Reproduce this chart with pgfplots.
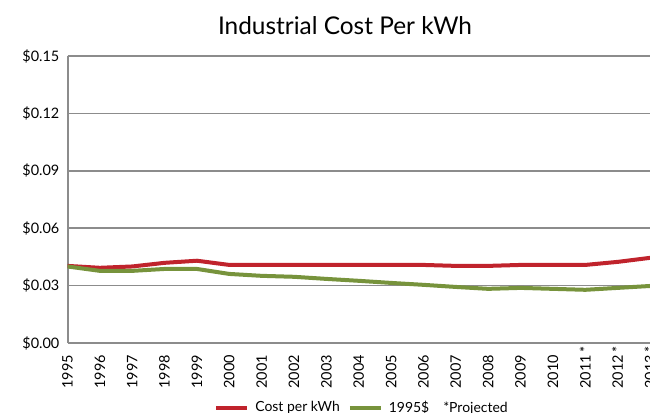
\documentclass[border=0pt]{standalone}
\usepackage{fontspec}
\setmainfont{Lato}
\usepackage{pgfplots}
\pgfplotsset{compat=1.18}
\definecolor{cred}{HTML}{C0232C}
\definecolor{cgreen}{HTML}{77933C}
\definecolor{cgrid}{HTML}{8C8C8C}
\begin{document}
\begin{tikzpicture}
\useasboundingbox (0bp,0bp) rectangle (650bp,413bp);
\clip (0bp,0bp) rectangle (650bp,413bp);
\node[font=\fontsize{24.5}{28}\selectfont] at (345bp,387bp) {Industrial Cost Per kWh};
\begin{axis}[
  at={(67.5bp,70bp)}, anchor=south west,
  scale only axis, width=582.5bp, height=287bp,
  xmin=1995, xmax=2013, ymin=0, ymax=0.15,
  axis x line*=bottom, axis y line*=left,
  axis line style={cgrid, line width=2bp, -},
  ytick={0,0.03,0.06,0.09,0.12,0.15},
  yticklabels={\$0.00,\$0.03,\$0.06,\$0.09,\$0.12,\$0.15},
  xtick={1995,...,2013},
  xticklabels={1995,1996,1997,1998,1999,2000,2001,2002,2003,2004,2005,2006,2007,2008,2009,2010,2011\rlap{\,*},2012\rlap{\,*},2013\rlap{\,*}},
  xticklabel style={rotate=90, anchor=east, font=\fontsize{14.5}{16}\selectfont, inner sep=0pt, xshift=-12bp},
  yticklabel style={font=\fontsize{14.5}{16}\selectfont, inner sep=0pt, xshift=-8bp},
  /pgf/number format/assume math mode=true,
  major tick length=0pt,
  ymajorgrids, grid style={cgrid, line width=1.5bp},
  legend columns=3,
  legend style={at={(0.5056,-0.225)}, anchor=center, draw=none, fill=none,
    font=\fontsize{14}{15}\selectfont, column sep=4bp, inner sep=0pt,
    /tikz/every even column/.append style={column sep=6bp}},
  legend image code/.code={\draw[#1, line width=4bp] (0bp,0bp) -- (31bp,0bp);},
  every axis plot/.append style={line width=4bp, line join=round, mark=none},
]
\addplot[cred] coordinates {
(1995,0.0403)(1996,0.0393)(1997,0.0400)(1998,0.0419)(1999,0.0430)
(2000,0.0408)(2001,0.0408)(2002,0.0408)(2003,0.0408)(2004,0.0408)
(2005,0.0408)(2006,0.0408)(2007,0.0403)(2008,0.0403)(2009,0.0408)
(2010,0.0408)(2011,0.0408)(2012,0.0424)(2013,0.0445)};
\addlegendentry{Cost per kWh}
\addplot[cgreen] coordinates {
(1995,0.0400)(1996,0.0377)(1997,0.0377)(1998,0.0387)(1999,0.0387)
(2000,0.0361)(2001,0.0351)(2002,0.0346)(2003,0.0335)(2004,0.0325)
(2005,0.0314)(2006,0.0304)(2007,0.0293)(2008,0.0283)(2009,0.0288)
(2010,0.0283)(2011,0.0278)(2012,0.0288)(2013,0.0298)};
\addlegendentry{1995\$}
\addlegendimage{empty legend}
\addlegendentry{*Projected}
\end{axis}
\end{tikzpicture}
\end{document}
